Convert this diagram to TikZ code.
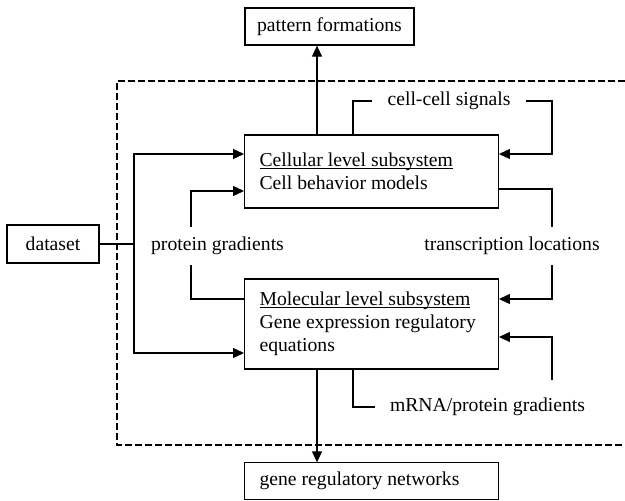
\documentclass[tikz,border=0pt]{standalone}
\usepackage{fontspec}
\setmainfont{Liberation Serif}
\usetikzlibrary{arrows.meta}
\newcommand{\undl}[1]{{\setbox0\hbox{#1}\rlap{\rule[-1.3pt]{\wd0}{0.5pt}}\box0}}
\tikzset{
  every node/.style={font=\fontsize{11.75pt}{13.9pt}\selectfont},
  box/.style={draw, line width=0.7pt, align=flush left, text width=48.4mm,
    inner xsep=2.45mm, inner ysep=0pt},
  sbox/.style={draw, line width=0.7pt, align=center, inner sep=0pt},
  lbl/.style={inner xsep=3.15mm, inner ysep=0pt, minimum height=8mm},
  link/.style={line width=0.7pt},
  arr/.style={link, -{Triangle[length=2.3mm, width=2.1mm]}},
  frame/.style={line width=0.7pt, dash pattern=on 1.4mm off 0.7mm},
}

\begin{document}
\begin{tikzpicture}[x=0.21mm, y=-0.21mm]
  \useasboundingbox (0,0) rectangle (625,500);
  \draw[frame] (625,81) -| (117,445) -- (625,445);

  \node [sbox, minimum width=35.5mm, minimum height=7.8mm] (pat) at (329.5,26.5) {pattern formations};
  \node [box, minimum height=15.3mm] (cell) at (371.5,171.5)
    {\hspace*{0.7mm}\undl{Cellular level subsystem}\\\hspace*{0.7mm}Cell behavior models};
  \node [box, minimum height=18.9mm] (mol) at (371.5,324)
    {\hspace*{0.7mm}\undl{Molecular level subsystem}\\\hspace*{0.7mm}Gene expression regulatory\\\hspace*{0.7mm}equations};
  \node [box, minimum height=7.6mm] (gene) at (371.5,481) {\hspace*{0.7mm}gene regulatory networks};
  \node [sbox, minimum width=19.3mm, minimum height=8mm] (data) at (53,244) {dataset};

  \node [lbl] (sig) at (449,101) {cell-cell signals};
  \node [lbl] (prot) at (217.5,246) {protein gradients};
  \node [lbl] (trans) at (512,246) {transcription locations};
  \node [lbl] (mrna) at (487.5,407) {mRNA/protein gradients};

  % bends
  \coordinate (xa) at (317,0);
  \coordinate (b1) at (353,101);
  \coordinate (b3) at (552,154);
  \coordinate (t1) at (552,189);
  \coordinate (t2) at (552,299);
  \coordinate (p1) at (191,191);
  \coordinate (p2) at (191,299);
  \coordinate (m1) at (353,407);
  \coordinate (m2) at (552,380);
  \coordinate (m3) at (552,337);
  \coordinate (d0) at (134,244);
  \coordinate (d1) at (134,154);
  \coordinate (d2) at (134,353);

  \draw[arr] (cell.north -| xa) -- (pat.south -| xa);
  \draw[arr] (mol.south -| xa) -- (gene.north -| xa);

  \draw[link] (cell.north -| b1) -- (b1) -- (sig.west);
  \draw[arr] (sig.east) -| (b3) -- (b3 -| cell.east);

  \draw[link] (cell.east |- t1) -| (trans.north -| t1);
  \draw[arr] (trans.south -| t1) |- (t2 -| mol.east);

  \draw[arr] (prot.north -| p1) |- (p1 -| cell.west);
  \draw[link] (prot.south -| p1) |- (p2 -| mol.west);

  \draw[link] (mol.south -| m1) -- (m1) -- (mrna.west);
  \draw[arr] (m2) -- (m3) -- (m3 -| mol.east);

  \draw[link] (data.east) -- (d0);
  \draw[arr] (d0) -- (d1) -- (d1 -| cell.west);
  \draw[arr] (d0) -- (d2) -- (d2 -| mol.west);
\end{tikzpicture}
\end{document}
